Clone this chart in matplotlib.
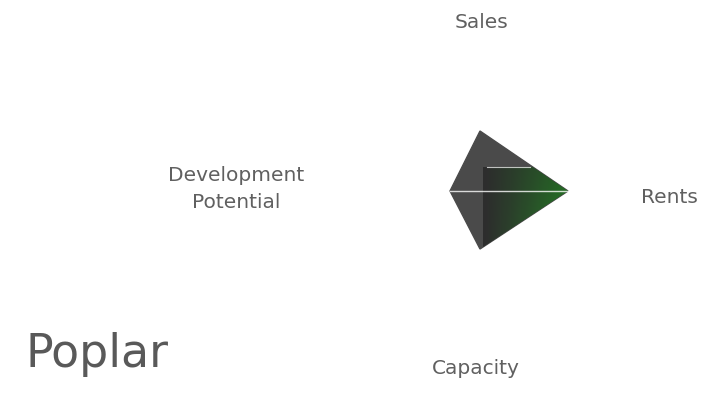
import numpy as np
import matplotlib
matplotlib.use("Agg")
import matplotlib.pyplot as plt
from matplotlib.patches import Polygon

categories = ['Sales', 'Rents', 'Capacity', 'Development\nPotential']
values = [3.0, 4.4, 2.9, 1.5]
angles = [90, 0, 270, 180]

fig = plt.figure(figsize=(7.09, 3.93), dpi=100)
ax = fig.add_axes([0, 0, 1, 1])
# centre of the radar at pixel (480, 191), 20 px per unit
ax.set_xlim(-24, 11.45)
ax.set_ylim(-10.1, 9.55)
ax.axis('off')

rad = np.radians(angles)
xs = np.array(values) * np.cos(rad)
ys = np.array(values) * np.sin(rad)

poly = Polygon(np.column_stack([xs, ys]), closed=True, facecolor='#4a4a4a',
               edgecolor='#4a4a4a', linewidth=1, zorder=2)
ax.add_patch(poly)

# green shading on the right half
nx, ny = 200, 100
gx = np.linspace(0, 1, nx)
gy = np.linspace(0, 1, ny)[:, None]
t = gx[None, :] ** 1.2
low = 0.4 + 0.6 * gy  # stronger toward the bottom
img = np.zeros((ny, nx, 4))
img[..., 0] = 0.17 * (1 - t) + 0.12 * t
img[..., 1] = 0.17 * (1 - t) + (0.38 + 0.32 * low) * t
img[..., 2] = 0.17 * (1 - t) + 0.12 * t
img[..., 3] = 0.94
im = ax.imshow(img, extent=[0.15, 5.9, -2.85, 1.2], origin='upper',
               aspect='auto', zorder=3, interpolation='bilinear')
im.set_clip_path(poly)

ax.plot([xs[3], xs[1]], [0, 0], color='white', lw=1, alpha=0.8, zorder=4)
ax.plot([0.35, 2.5], [1.2, 1.2], color='white', lw=0.8, alpha=0.7, zorder=4)

label_pos = [(0.1, 8.45), (9.45, -0.35), (-0.2, -8.85), (-12.2, 0.1)]
for lab, (lx, ly) in zip(categories, label_pos):
    ax.text(lx, ly, lab, ha='center', va='center', fontsize=14.5,
            color='#606060', family='DejaVu Sans', linespacing=1.55)

fig.text(25 / 709, 1 - 367 / 393, 'Poplar', fontsize=33, color='#595959',
         family='DejaVu Sans', ha='left', va='baseline')

fig.savefig('out.png', dpi=100)
